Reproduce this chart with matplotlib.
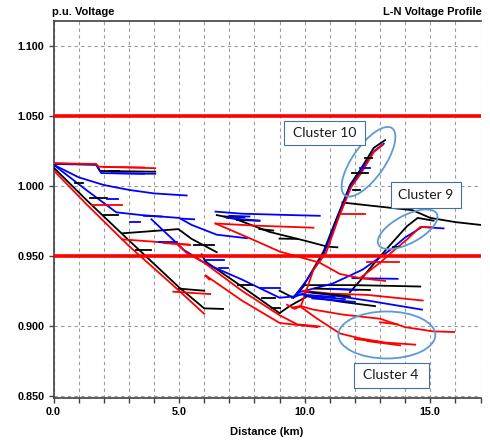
import numpy as np
import matplotlib.pyplot as plt
from matplotlib.patches import Ellipse, Rectangle
from matplotlib.transforms import ScaledTranslation

plt.rcParams['font.family'] = ['Liberation Sans', 'DejaVu Sans']
plt.rcParams['font.weight'] = 'bold'

# voltage along each branch: (distance in km, voltage in p.u.)
k_top = ([0, 1.7, 1.85, 4.05], [1.0155, 1.0150, 1.0105, 1.0100])
k_trunk = ([0, 1.3, 3.0, 5.0, 6.0, 6.75], [1.013, 0.990, 0.961, 0.9274, 0.9124, 0.912])
k_mid = ([2.75, 3.5, 4.97, 5.5, 6.5], [0.966, 0.967, 0.969, 0.962, 0.9525])
k_diag = ([5.9, 6.04, 7.5, 9.0], [0.951, 0.946, 0.928, 0.909])
k_upper = ([6.5, 7.2, 8.6, 9.95, 10.9, 11.3], [0.979, 0.9765, 0.967, 0.961, 0.9565, 0.956])
k_rise10 = ([9.0, 9.55, 10.0, 10.75, 11.3, 11.82, 12.2, 12.75, 13.2],
            [0.925, 0.920, 0.930, 0.953, 0.978, 1.001, 1.011, 1.027, 1.0325])
k_east = ([11.5, 12.5, 14.3, 15.0, 16.0, 17.0], [0.988, 0.986, 0.9825, 0.977, 0.974, 0.972])
k_rise9 = ([11.8, 12.2, 12.6, 13.27, 14.07, 14.5, 15.13], [0.924, 0.932, 0.941, 0.955, 0.971, 0.977, 0.975])
k_flat = ([9.55, 10.0, 12.0, 14.6], [0.920, 0.929, 0.929, 0.928])
k_low = ([9.0, 9.4, 10.1, 11.5, 12.8], [0.909, 0.914, 0.921, 0.917, 0.914])

b_top = ([0, 1.7, 1.9, 4.05], [1.016, 1.015, 1.009, 1.0085])
b_upper = ([0, 1.0, 2.0, 3.0, 4.0, 5.3], [1.015, 1.006, 1.0005, 0.997, 0.9945, 0.993])
b_mid = ([0, 1.3, 2.5, 3.5, 5.0, 5.5, 6.5, 7.7], [1.015, 0.997, 0.981, 0.979, 0.977, 0.972, 0.965, 0.9625])
b_diag = ([3.9, 5.2, 6.1, 7.5, 9.0, 9.6], [0.976, 0.954, 0.944, 0.933, 0.920, 0.921])
b_far = ([6.45, 7.5, 8.5, 9.5, 10.6], [0.9815, 0.980, 0.9795, 0.979, 0.9785])
b_rise10 = ([9.6, 10.1, 10.75, 11.3, 11.8, 12.2, 12.75, 13.15],
            [0.921, 0.933, 0.951, 0.976, 0.999, 1.009, 1.0245, 1.030])
b_rise9 = ([9.8, 11.1, 12.3, 13.4, 14.0, 14.67, 15.53], [0.924, 0.930, 0.940, 0.954, 0.963, 0.9705, 0.9695])
b_flat = ([9.5, 10.1, 11.0, 12.5, 13.5, 14.67], [0.920, 0.924, 0.922, 0.918, 0.915, 0.9115])
b_short = ([11.9, 13.7], [0.934, 0.9335])

r_top = ([0, 1.7, 1.8, 4.05], [1.016, 1.0155, 1.0135, 1.0125])
r_trunk = ([0, 1.3, 3.0, 5.0, 6.0], [1.011, 0.987, 0.957, 0.925, 0.9085])
r_mid = ([2.72, 4.0, 5.44], [0.9617, 0.960, 0.9576])
r_diag_a = ([4.9, 5.3, 6.0, 7.5, 9.0, 9.7, 10.6], [0.9585, 0.952, 0.945, 0.925, 0.9075, 0.901, 0.8995])
r_diag_b = ([6.2, 6.05, 7.5, 9.0, 10.5], [0.933, 0.936, 0.918, 0.902, 0.899])
r_far = ([6.45, 8.0, 10.35], [0.973, 0.9715, 0.970])
r_far_drop = ([6.45, 8.0, 9.0, 10.6, 11.4, 12.2, 13.2], [0.973, 0.961, 0.953, 0.945, 0.937, 0.934, 0.932])
r_rise10 = ([9.3, 9.6, 9.85, 10.35, 10.85, 11.35, 11.85, 12.25, 12.75, 13.1],
            [0.915, 0.912, 0.914, 0.940, 0.952, 0.977, 0.999, 1.009, 1.024, 1.029])
r_rise9 = ([12.2, 13.0, 13.5, 14.1, 14.6, 15.07], [0.934, 0.945, 0.953, 0.962, 0.9705, 0.9703])
r_flat = ([9.9, 11.0, 12.5, 14.7], [0.925, 0.923, 0.922, 0.918])
r_long = ([9.5, 9.85, 10.35, 11.5, 13.0, 14.0, 15.1, 15.95], [0.913, 0.914, 0.9115, 0.908, 0.905, 0.899, 0.896, 0.8955])
r_c4 = ([9.8, 10.5, 11.4, 12.2, 13.2, 14.4], [0.914, 0.905, 0.8945, 0.891, 0.888, 0.8865])

# short laterals: (km start, km end, p.u. start, p.u. end)
k_stubs = [(0.86, 1.19, 1.0017, 1.0017), (1.46, 2.12, 0.991, 0.991), (2.0, 2.58, 0.979, 0.979),
           (5.0, 6.0, 0.9265, 0.925), (5.6, 6.4, 0.9576, 0.9576), (7.36, 7.9, 0.929, 0.929),
           (8.3, 8.82, 0.9196, 0.9196), (8.69, 9.02, 0.9124, 0.9124), (7.3, 8.2, 0.9755, 0.975),
           (8.2, 8.75, 0.969, 0.968), (9.0, 9.7, 0.9622, 0.962), (11.88, 12.54, 1.0089, 1.0089),
           (11.94, 12.21, 0.997, 0.997), (12.4, 12.7, 1.0196, 1.0196), (13.5, 13.8, 0.956, 0.956),
           (10.2, 11.8, 0.924, 0.921), (3.3, 3.9, 0.954, 0.954), (2.2, 2.6, 1.0105, 1.0105),
           (10.4, 12.6, 0.9265, 0.9255), (6.8, 7.6, 0.978, 0.9775)]
b_stubs = [(2.12, 2.58, 0.9903, 0.9903), (3.05, 3.45, 0.9743, 0.9743), (6.04, 6.77, 0.947, 0.947),
           (6.57, 6.96, 0.941, 0.941), (8.23, 9.02, 0.9267, 0.9267), (6.9, 8.2, 0.977, 0.975),
           (7.0, 7.8, 0.9785, 0.978), (4.2, 4.9, 0.9595, 0.9595), (10.0, 11.6, 0.9215, 0.919),
           (10.3, 12.0, 0.9195, 0.917), (11.0, 12.1, 0.9265, 0.9255), (12.2, 12.6, 1.0125, 1.0125),
           (2.3, 3.6, 1.009, 1.0085), (9.7, 11.2, 0.9225, 0.9205), (3.6, 4.3, 0.9785, 0.978),
           (5.1, 5.6, 0.9765, 0.976)]
r_stubs = [(1.52, 2.72, 0.9862, 0.9862), (4.77, 6.24, 0.9243, 0.9226), (12.47, 13.74, 0.9457, 0.9457),
           (12.0, 13.0, 0.8905, 0.8885), (12.5, 13.8, 0.889, 0.886), (13.0, 13.7, 0.9025, 0.901),
           (4.4, 5.4, 0.959, 0.958), (11.5, 12.4, 0.9795, 0.9795), (10.6, 11.3, 0.9495, 0.9495),
           (2.0, 3.6, 1.0135, 1.013)]

black_lines = [k_top, k_trunk, k_mid, k_diag, k_upper, k_rise10, k_east, k_rise9, k_flat, k_low]
blue_lines = [b_top, b_upper, b_mid, b_diag, b_far, b_rise10, b_rise9, b_flat, b_short]
red_lines = [r_top, r_trunk, r_mid, r_diag_a, r_diag_b, r_far, r_far_drop, r_rise10, r_rise9,
             r_flat, r_long, r_c4]

limits = [1.05, 0.95]

# cluster labels: text, ellipse centre (km, p.u.), box centre (km, p.u.)
clusters = [("Cluster 10", (12.54, 1.0171), (10.80, 1.0376)),
            ("Cluster 9", (14.10, 0.9689), (14.83, 0.9937)),
            ("Cluster 4", (13.27, 0.8934), (13.44, 0.8648))]
ellipse_px = [(82, 32, 55), (66, 28, 28), (97, 47, 0)]
box_px = [(81, 24), (70, 26), (75, 25)]

fig = plt.figure(figsize=(4.9, 4.44), dpi=100)
ax = fig.add_axes([53.5 / 490, 46 / 444, 427 / 490, 377 / 444])

lw = 1.3
for col, group in (('black', black_lines), ('#0000ff', blue_lines), ('#ff0000', red_lines)):
    for km, pu in group:
        ax.plot(km, pu, color=col, lw=lw, zorder=3)
for col, stubs in (('black', k_stubs), ('#0000ff', b_stubs), ('#ff0000', r_stubs)):
    for x0, x1, v0, v1 in stubs:
        ax.plot([x0, x1], [v0, v1], color=col, lw=lw, zorder=3)

for v in limits:
    ax.axhline(v, color='#ff0000', lw=2.6, zorder=4)

ax.set_xlim(0, 17)
ax.set_ylim(0.8484, 1.1176)
ax.set_yticks([0.85, 0.90, 0.95, 1.00, 1.05, 1.10])
ax.set_yticklabels(['%.3f' % t for t in [0.85, 0.90, 0.95, 1.00, 1.05, 1.10]])
ax.set_xticks([0, 5, 10, 15])
ax.set_xticklabels(['0.0', '5.0', '10.0', '15.0'])
ax.set_xticks(np.arange(0, 18, 1), minor=True)
ax.tick_params(which='both', direction='out', length=3.5, width=1, color='#404040',
               labelsize=7.8, pad=3)
ax.grid(True, which='both', axis='x', color='#999999', ls=(0, (3, 3)), lw=0.8)
ax.grid(True, which='major', axis='y', color='#999999', ls=(0, (3, 3)), lw=0.8)
for s in ['left', 'bottom', 'top']:
    ax.spines[s].set_color('#404040')
    ax.spines[s].set_linewidth(1.2)
ax.spines['right'].set_visible(False)

ax.set_xlabel('Distance (km)', fontsize=8, fontweight='bold', labelpad=7)
fig.text(52 / 490, 1 - 12 / 444, 'p.u. Voltage', fontsize=8, fontweight='bold', va='center', ha='left')
fig.text(482 / 490, 1 - 12 / 444, 'L-N Voltage Profile', fontsize=8, fontweight='bold',
         va='center', ha='right')

for (label, ell_c, box_c), (ew, eh, ang), (bw, bh) in zip(clusters, ellipse_px, box_px):
    tr = ScaledTranslation(ell_c[0], ell_c[1], ax.transData)
    ax.add_patch(Ellipse((0, 0), ew, eh, angle=ang, transform=tr, fill=False,
                         ec='#5b9bd5', lw=1.3, zorder=6, clip_on=False))
    tb = ScaledTranslation(box_c[0], box_c[1], ax.transData)
    ax.add_patch(Rectangle((-bw / 2, -bh / 2), bw, bh, transform=tb, fc='white',
                           ec='#41719c', lw=0.8, zorder=6, clip_on=False))
    ax.text(box_c[0], box_c[1], label, ha='center', va='center', fontsize=10,
            fontweight='normal', family=['Lato', 'DejaVu Sans'], color='#1a1a1a', zorder=7)

fig.savefig('out.png', dpi=100)
